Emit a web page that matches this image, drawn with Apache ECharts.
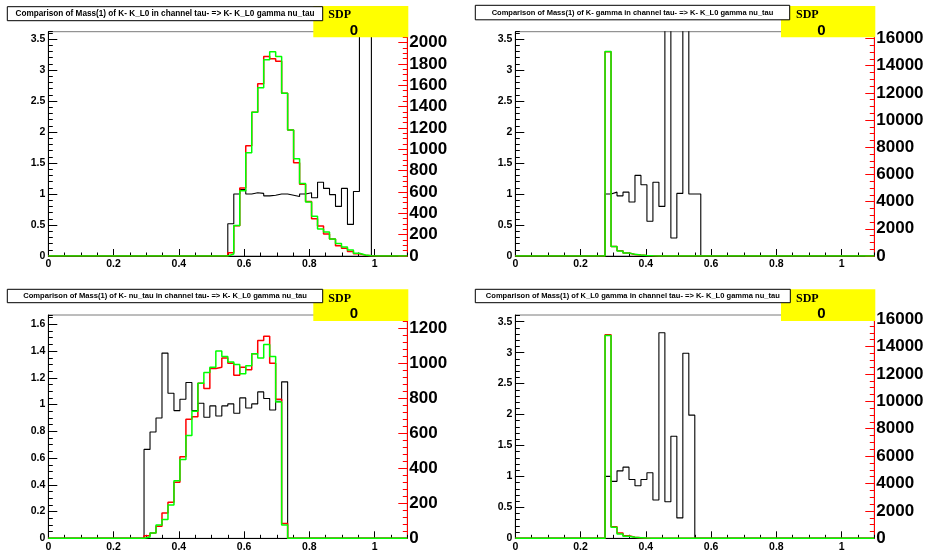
<!DOCTYPE html>
<html><head><meta charset="utf-8">
<script src="https://cdn.jsdelivr.net/npm/echarts@6/dist/echarts.min.js"></script>
<style>html,body{margin:0;padding:0;background:#fff}#c{width:925px;height:552px}</style>
</head><body><div id="c"></div>
<script>
// ---- binning of the histograms (all panels) ----
const X_MIN = 0, X_MAX = 1.1, N_BINS = 60;

// ---- panel titles ----
const titles = [
  "Comparison of Mass(1) of K- K_L0 in channel tau- => K- K_L0 gamma nu_tau",
  "Comparison of Mass(1) of K- gamma in channel tau- => K- K_L0 gamma nu_tau",
  "Comparison of Mass(1) of K- nu_tau in channel tau- => K- K_L0 gamma nu_tau",
  "Comparison of Mass(1) of K_L0 gamma in channel tau- => K- K_L0 gamma nu_tau"
];
const sdpLabel = "SDP";
const sdpValues = ["0", "0", "0", "0"];

// ---- axis ranges / ticks ----
const leftMax = [3.618, 3.618, 1.67, 3.608];
const leftStep = [0.5, 0.5, 0.2, 0.5];
const leftMinorStep = [0.1, 0.1, 0.05, 0.1];
const rightMax = [2103, 16500, 1276, 16300];
const rightStep = [200, 2000, 200, 2000];
const rightMinorStep = [50, 500, 40, 500];
const xStep = 0.2, xMinorStep = 0.05;

// ---- panel 1: K- K_L0 ----  (first non-empty bin index, then bin contents)
const p1Start = 30;
const p1Black = [0.52, 1.0, 1.07, 1.0, 1.02, 1.01, 0.97, 0.98, 1.0, 1.0, 0.98, 0.96, 1.0, 1.02, 0.94, 1.19, 1.09, 0.99, 0.80, 1.09, 0.51, 1.04, 4.0, 4.0];
const p1Red   = [30, 284, 637, 1034, 1347, 1615, 1870, 1850, 1825, 1525, 1181, 875, 672, 512, 350, 282, 206, 160, 96, 72, 42, 22, 8, 3];
const p1Green = [18, 287, 612, 969, 1347, 1578, 1840, 1914, 1870, 1525, 1181, 912, 680, 506, 372, 252, 224, 160, 118, 84, 56, 25, 9, 3];

// ---- panel 2: K- gamma ----
const p2Start = 15;
const p2Black = [1.0, 1.03, 0.97, 1.03, 0.87, 1.30, 1.15, 0.56, 1.19, 0.80, 4.0, 0.29, 1.01, 4.0, 1.0, 1.0];
const p2Red   = [15020, 700, 380, 215, 115, 65, 35, 15];
const p2Green = [15040, 690, 370, 220, 120, 72, 42, 20];

// ---- panel 3: K- nu_tau ----
const p3Start = 16;
const p3Black = [0.665, 0.795, 0.90, 1.385, 1.085, 0.955, 1.04, 1.165, 0.955, 1.01, 0.905, 0.99, 0.915, 0.99, 1.005, 0.935, 1.05, 0.975, 1.005, 1.095, 1.045, 0.96, 1.025, 1.17];
const p3Red   = [15, 31, 69, 145, 206, 321, 466, 680, 695, 886, 856, 970, 978, 1031, 1001, 932, 978, 963, 1054, 1131, 1154, 1001, 795, 84];
const p3Green = [8, 31, 76, 107, 191, 329, 451, 588, 726, 886, 947, 978, 1070, 1039, 1008, 993, 940, 986, 1054, 1031, 1108, 1039, 779, 76];

// ---- panel 4: K_L0 gamma ----
const p4Start = 15;
const p4Black = [1.0, 0.92, 1.09, 1.15, 0.95, 0.85, 0.95, 1.06, 0.62, 3.32, 0.59, 1.65, 0.33, 2.99, 1.99];
const p4Red   = [14860, 850, 388, 194, 80, 45, 20];
const p4Green = [14810, 800, 315, 145, 70, 45, 20];

const panels = [
  {start: p1Start, black: p1Black, red: p1Red, green: p1Green},
  {start: p2Start, black: p2Black, red: p2Red, green: p2Green},
  {start: p3Start, black: p3Black, red: p3Red, green: p3Green},
  {start: p4Start, black: p4Black, red: p4Red, green: p4Green}
];

// ---- layout ----
const grids = [
  {left: 48.3, top: 31.7, width: 359, height: 224.3},
  {left: 515.3, top: 31.7, width: 359, height: 224.3},
  {left: 48.3, top: 315, width: 359, height: 223.3},
  {left: 515.3, top: 315, width: 359, height: 223.3}
];
const titleBoxes = [
  {x: 7.3, y: 6.7, w: 315.4, h: 14, fs: 8.2},
  {x: 475.3, y: 5.3, w: 314.4, h: 14.5, fs: 7.5},
  {x: 7.3, y: 289.3, w: 315.4, h: 13.4, fs: 7.6},
  {x: 475.3, y: 289.3, w: 315, h: 13.4, fs: 7.55}
];
const sdpBoxes = [
  {x: 313.3, y: 6, w: 95, h: 31.3},
  {x: 781, y: 6, w: 94.3, h: 31.3},
  {x: 313.3, y: 289.3, w: 95, h: 31.7},
  {x: 781, y: 289.3, w: 94.3, h: 31.7}
];

function stepPoints(start, vals) {
  const w = (X_MAX - X_MIN) / N_BINS;
  const full = new Array(N_BINS).fill(0);
  vals.forEach((v, i) => { full[start + i] = v; });
  const pts = full.map((v, i) => [X_MIN + i * w, v]);
  pts.push([X_MAX, full[N_BINS - 1]]);
  return pts;
}

const SANS = '"Liberation Sans", Arial, sans-serif';
const SERIF = '"Liberation Serif", "Times New Roman", serif';
const plain = v => String(Math.round(v * 1000) / 1000);

const option = {
  animation: false,
  backgroundColor: '#ffffff',
  grid: [], xAxis: [], yAxis: [], series: [], graphic: []
};

grids.forEach((g, k) => {
  option.grid.push({left: g.left, top: g.top, width: g.width, height: g.height,
    show: true, borderColor: '#7a7a7a', borderWidth: 1, backgroundColor: 'transparent',
    containLabel: false, outerBoundsMode: 'none'});
  // x main
  option.xAxis.push({type: 'value', gridIndex: k, position: 'bottom', min: X_MIN, max: X_MAX, interval: xStep,
    axisLine: {show: true, onZero: false, lineStyle: {color: '#000', width: 1}},
    axisTick: {show: true, inside: true, length: 7, lineStyle: {color: '#000', width: 1}},
    splitLine: {show: false},
    axisLabel: {show: true, showMaxLabel: false, margin: 3, color: '#000', fontSize: 10.5, fontWeight: 'bold', fontFamily: SANS, formatter: plain}});
  // x minor
  option.xAxis.push({type: 'value', gridIndex: k, position: 'bottom', min: X_MIN, max: X_MAX, interval: xMinorStep,
    axisLine: {show: false, onZero: false},
    axisTick: {show: true, inside: true, length: 3.5, lineStyle: {color: '#000', width: 1}},
    splitLine: {show: false}, axisLabel: {show: false}});
  // left main
  option.yAxis.push({type: 'value', gridIndex: k, position: 'left', min: 0, max: leftMax[k], interval: leftStep[k],
    axisLine: {show: true, onZero: false, lineStyle: {color: '#000', width: 1}},
    axisTick: {show: true, inside: true, length: 9, lineStyle: {color: '#000', width: 1}},
    splitLine: {show: false},
    axisLabel: {show: true, showMaxLabel: false, margin: 3, color: '#000', fontSize: 10.5, fontWeight: 'bold', fontFamily: SANS, formatter: plain}});
  // left minor
  option.yAxis.push({type: 'value', gridIndex: k, position: 'left', min: 0, max: leftMax[k], interval: leftMinorStep[k],
    axisLine: {show: false, onZero: false},
    axisTick: {show: true, inside: true, length: 4.5, lineStyle: {color: '#000', width: 1}},
    splitLine: {show: false}, axisLabel: {show: false}});
  // right main
  option.yAxis.push({type: 'value', gridIndex: k, position: 'right', min: 0, max: rightMax[k], interval: rightStep[k],
    axisLine: {show: true, onZero: false, lineStyle: {color: '#ff0000', width: 1}},
    axisTick: {show: true, inside: true, length: 9, lineStyle: {color: '#ff0000', width: 1}},
    splitLine: {show: false},
    axisLabel: {show: true, showMaxLabel: false, margin: 2, color: '#000', fontSize: 17, fontWeight: 'bold', fontFamily: SANS, formatter: plain}});
  // right minor
  option.yAxis.push({type: 'value', gridIndex: k, position: 'right', min: 0, max: rightMax[k], interval: rightMinorStep[k],
    axisLine: {show: false, onZero: false},
    axisTick: {show: true, inside: true, length: 4.5, lineStyle: {color: '#ff0000', width: 1}},
    splitLine: {show: false}, axisLabel: {show: false}});

  const p = panels[k];
  const base = {type: 'line', step: 'end', symbol: 'none', showSymbol: false, clip: true, xAxisIndex: 2 * k,
    emphasis: {disabled: true}, silent: true};
  option.series.push(Object.assign({}, base, {name: 'ratio', yAxisIndex: 4 * k, data: stepPoints(p.start, p.black),
    lineStyle: {color: '#000000', width: 1.1}, itemStyle: {color: '#000'}}));
  option.series.push(Object.assign({}, base, {name: 'red', yAxisIndex: 4 * k + 2, data: stepPoints(p.start, p.red),
    lineStyle: {color: '#ff0000', width: 1.5}, itemStyle: {color: '#ff0000'}}));
  option.series.push(Object.assign({}, base, {name: 'green', yAxisIndex: 4 * k + 2, data: stepPoints(p.start, p.green),
    lineStyle: {color: '#00ff00', width: 1.5}, itemStyle: {color: '#00ff00'}}));

  const sb = sdpBoxes[k];
  option.graphic.push({type: 'rect', z: 100, shape: {x: sb.x, y: sb.y, width: sb.w, height: sb.h},
    style: {fill: '#ffff00', stroke: null}});
  option.graphic.push({type: 'text', z: 101, x: sb.x + 15, y: sb.y + 9.3,
    style: {text: sdpLabel, fill: '#000', font: 'bold 12px ' + SERIF, align: 'left', verticalAlign: 'middle'}});
  option.graphic.push({type: 'text', z: 101, x: sb.x + 40.5, y: sb.y + 24.5,
    style: {text: sdpValues[k], fill: '#000', font: 'bold 15px ' + SANS, align: 'center', verticalAlign: 'middle'}});
  const tb = titleBoxes[k];
  option.graphic.push({type: 'rect', z: 102, shape: {x: tb.x, y: tb.y, width: tb.w, height: tb.h},
    style: {fill: '#ffffff', stroke: '#000000', lineWidth: 1}});
  option.graphic.push({type: 'text', z: 103, x: tb.x + tb.w / 2, y: tb.y + tb.h / 2,
    style: {text: titles[k], fill: '#000', font: 'bold ' + tb.fs + 'px ' + SANS, align: 'center', verticalAlign: 'middle'}});
});

const chart = echarts.init(document.getElementById('c'), null, {renderer: 'canvas'});
chart.setOption(option);
</script>
</body></html>
